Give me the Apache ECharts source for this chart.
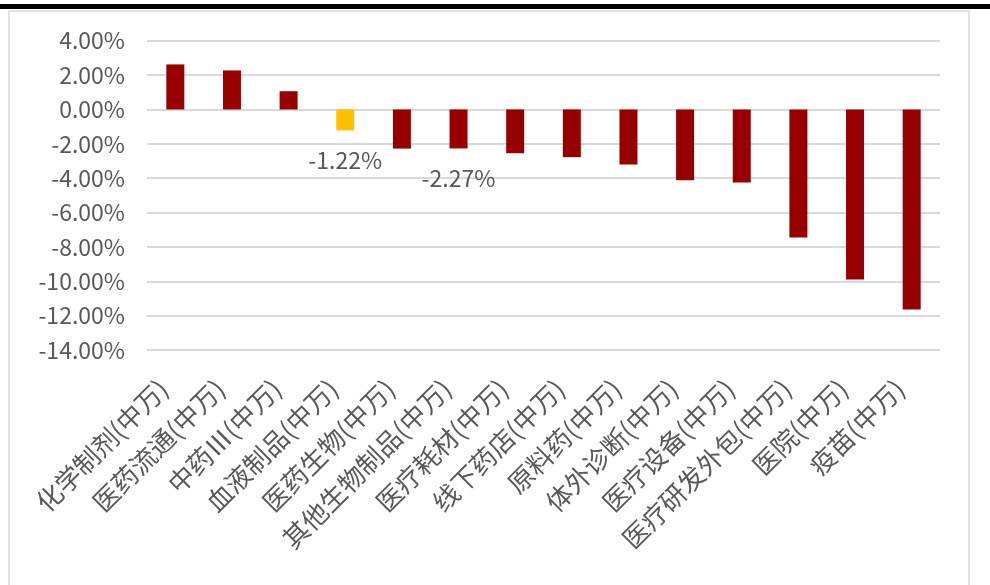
<!DOCTYPE html>
<html>
<head>
<meta charset="utf-8">
<script src="https://cdn.jsdelivr.net/npm/echarts@6/dist/echarts.min.js"></script>
<style>
html,body{margin:0;padding:0;background:#fff;}
#chart{width:990px;height:585px;}
</style>
</head>
<body>
<div id="chart"></div>
<script>
const categories = ['化学制剂(中万)','医药流通(中万)','中药Ⅲ(中万)','血液制品(中万)','医药生物(中万)','其他生物制品(中万)','医疗耗材(中万)','线下药店(中万)','原料药(中万)','体外诊断(中万)','医疗设备(中万)','医疗研发外包(中万)','医院(中万)','疫苗(中万)'];
const values = [2.62, 2.27, 1.06, -1.22, -2.28, -2.27, -2.55, -2.78, -3.20, -4.12, -4.25, -7.45, -9.90, -11.65];
const highlightIndex = 3;
const labeledIndices = [3, 5];
const yMin = -14, yMax = 4, yStep = 2;

const chart = echarts.init(document.getElementById('chart'));
const font = '"Noto Sans CJK SC","Noto Sans",sans-serif';
chart.setOption({
  animation: false,
  backgroundColor: '#fff',
  graphic: [
    {type:'rect', shape:{x:0,y:4,width:990,height:5}, style:{fill:'#000'}},
    {type:'rect', shape:{x:9,y:11,width:960,height:600}, style:{fill:'none',stroke:'#d9d9d9',lineWidth:1.5}, z:-1}
  ],
  grid: {left:147, right:50, top:40.7, bottom:235, containLabel:false},
  xAxis: {
    type:'category', data:categories, position:'bottom',
    axisLine:{show:false}, axisTick:{show:false},
    axisLabel:{rotate:45, interval:0, margin:22, padding:[0,17,0,0], color:'#595959', fontSize:26, fontFamily:font}
  },
  yAxis: {
    type:'value', min:yMin, max:yMax, interval:yStep,
    axisLine:{show:false}, axisTick:{show:false},
    splitLine:{lineStyle:{color:'#d9d9d9', width:2}},
    axisLabel:{color:'#595959', fontSize:23, fontFamily:font, margin:22,
      formatter: v => v.toFixed(2) + '%'}
  },
  series: [{
    type:'bar', barWidth:18,
    data: values.map((v,i) => ({
      value: v,
      itemStyle:{color: i===highlightIndex ? '#FFC000' : '#980000'},
      label: labeledIndices.includes(i) ? {show:true, position:'bottom', distance:18,
        formatter: p => p.value.toFixed(2) + '%', color:'#595959', fontSize:23, fontFamily:font} : {show:false}
    }))
  }]
});
</script>
</body>
</html>
